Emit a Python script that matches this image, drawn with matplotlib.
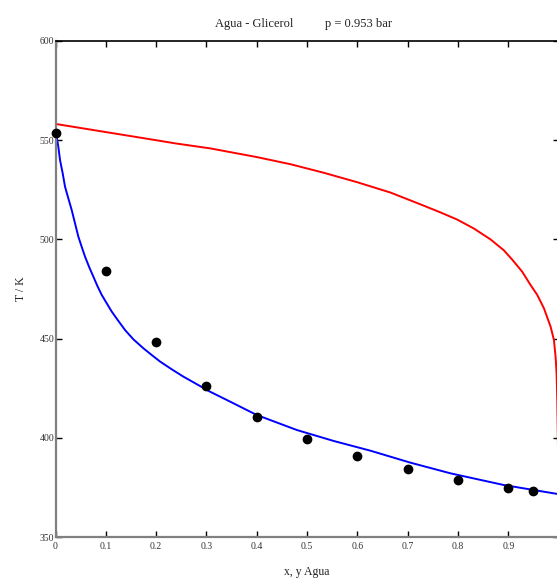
import matplotlib
matplotlib.use("Agg")
import matplotlib.pyplot as plt

# Experimental T-x data (water mole fraction, K)
x_exp = [0.0, 0.1, 0.2, 0.3, 0.4, 0.5, 0.6, 0.7, 0.8, 0.9, 0.95]
T_exp = [553.5, 484.2, 448.5, 426.3, 410.7, 399.3, 390.6, 384.1, 378.7, 374.9, 373.2]

# Calculated bubble curve T(x)
x_bub = [0.0, 0.0023, 0.0056, 0.009, 0.0143, 0.0189, 0.0255, 0.0322, 0.0388,
         0.0454, 0.052, 0.0587, 0.0667, 0.0753, 0.0833, 0.0919, 0.1018, 0.1118,
         0.125, 0.1383, 0.1549, 0.1748, 0.1914, 0.208, 0.2312, 0.2544, 0.281,
         0.3075, 0.341, 0.40, 0.48, 0.553, 0.626, 0.705, 0.785, 0.891, 1.0]
T_bub = [557.8, 551.8, 546.7, 540.0, 533.3, 526.6, 520.7, 514.8, 508.1,
         501.4, 496.3, 491.3, 486.2, 481.2, 476.5, 472.0, 467.8, 463.6,
         458.9, 454.3, 449.6, 445.1, 441.7, 438.4, 434.5, 430.8, 427.0,
         423.2, 419.0, 411.5, 403.9, 398.4, 393.5, 387.5, 382.1, 376.2, 371.6]

# Calculated dew curve T(y)
y_dew = [0.0, 0.1, 0.2, 0.238, 0.307, 0.4, 0.467, 0.533, 0.6, 0.666, 0.732,
         0.7652, 0.7984, 0.8315, 0.8647, 0.8912, 0.9078, 0.9277, 0.9443, 0.9576,
         0.9708, 0.9841, 0.9907, 0.994, 0.996, 0.9973, 0.9985, 1.0]
T_dew = [558.2, 554.1, 550.0, 548.4, 545.9, 541.5, 537.9, 533.6, 528.8, 523.6, 517.0,
         513.6, 510.0, 505.5, 500.0, 494.5, 489.8, 483.7, 477.0, 472.0,
         465.3, 456.0, 449.3, 440.9, 432.5, 419.1, 400.0, 371.6]

x_ticks = [0, 0.1, 0.2, 0.3, 0.4, 0.5, 0.6, 0.7, 0.8, 0.9]
x_tick_labels = ["0", "0.1", "0.2", "0.3", "0.4", "0.5", "0.6", "0.7", "0.8", "0.9"]
y_ticks = [350, 400, 450, 500, 550, 600]

plt.rcParams["font.family"] = ["Liberation Serif", "DejaVu Serif"]

fig = plt.figure(figsize=(5.57, 5.81), dpi=100, facecolor="white")
W, H = 557, 581
left, right, top, bottom = 55.5, 558.6, 41.0, 537.0
ax = fig.add_axes([left / W, (H - bottom) / H, (right - left) / W, (bottom - top) / H])

ax.plot(y_dew, T_dew, color="#ff0000", lw=1.4, solid_joinstyle="round")
ax.plot(x_bub, T_bub, color="#0000ff", lw=1.4, solid_joinstyle="round")
ax.plot(x_exp, T_exp, "o", color="black", markersize=6, clip_on=False, zorder=5)

ax.set_xlim(0, 1)
ax.set_ylim(350, 600)
ax.set_xticks(x_ticks)
ax.set_xticklabels(x_tick_labels)
ax.set_yticks(y_ticks)

ax.tick_params(axis="both", direction="in", length=4, width=1, color="black",
               labelsize=7, labelcolor="#333333", top=True, right=True)
ax.tick_params(axis="y", pad=1)
ax.tick_params(axis="x", pad=3.5)

for side in ("left", "bottom"):
    ax.spines[side].set_color("#808080")
    ax.spines[side].set_linewidth(1.6)
ax.spines["top"].set_color("black")
ax.spines["top"].set_linewidth(1.2)
ax.spines["right"].set_color("black")
ax.spines["right"].set_linewidth(1.2)

ax.set_xlabel("x, y Agua", fontsize=8.5, color="#222222")
ax.xaxis.set_label_coords(0.5, -0.058)
ax.set_ylabel("T / K", fontsize=8.5, color="#222222")
ax.yaxis.set_label_coords(-0.057, 0.5)

fig.text(215 / W, (H - 27) / H, "Agua - Glicerol", fontsize=9, color="#222222",
         ha="left", va="baseline")
fig.text(325 / W, (H - 27) / H, "p = 0.953 bar", fontsize=9, color="#222222",
         ha="left", va="baseline")

fig.savefig("out.png", dpi=100, facecolor="white")
